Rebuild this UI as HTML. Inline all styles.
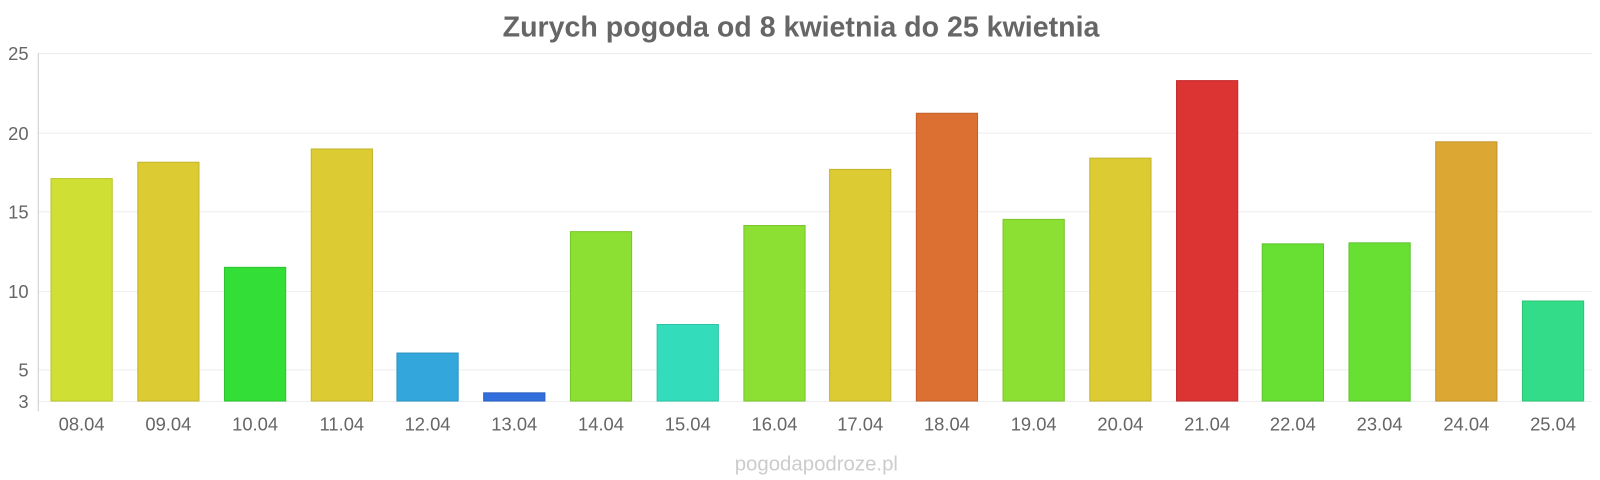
<!DOCTYPE html>
<html><head><meta charset="utf-8"><style>
body{margin:0;background:#fff;}
svg{display:block;font-family:"Liberation Sans",sans-serif;}
</style></head><body>
<svg width="1600" height="480" viewBox="0 0 1568 470.4" preserveAspectRatio="none">
<text x="785" y="36" text-anchor="middle" font-size="28" font-weight="bold" fill="#666">Zurych pogoda od 8 kwietnia do 25 kwietnia</text>
<g stroke="#eee" stroke-width="1">
<line x1="37" y1="52.5" x2="1560" y2="52.5"/>
<line x1="37" y1="130.5" x2="1560" y2="130.5"/>
<line x1="37" y1="207.5" x2="1560" y2="207.5"/>
<line x1="37" y1="285.5" x2="1560" y2="285.5"/>
<line x1="37" y1="362.5" x2="1560" y2="362.5"/>
<line x1="37" y1="393.5" x2="1560" y2="393.5"/>
</g>
<line x1="37.5" y1="52" x2="37.5" y2="403" stroke="#ccc"/>
<g font-size="18" fill="#666" text-anchor="end">
<text x="28" y="59">25</text><text x="28" y="137">20</text><text x="28" y="214">15</text>
<text x="28" y="292">10</text><text x="28" y="369">5</text><text x="28" y="400">3</text>
</g>
<g stroke-width="1">
<rect x="50" y="175" width="60" height="218" fill="#cfdf33" stroke="#b8c62a"/>
<rect x="135" y="159" width="60" height="234" fill="#dccb33" stroke="#c4b42b"/>
<rect x="220" y="262" width="60" height="131" fill="#33df37" stroke="#2bc42f"/>
<rect x="305" y="146" width="60" height="247" fill="#dccb33" stroke="#c4b42b"/>
<rect x="389" y="346" width="60" height="47" fill="#33a7dc" stroke="#2b93c4"/>
<rect x="474" y="385" width="60" height="8" fill="#336fdc" stroke="#2b5fc4"/>
<rect x="559" y="227" width="60" height="166" fill="#8cdf33" stroke="#7ac42b"/>
<rect x="644" y="318" width="60" height="75" fill="#33dcbb" stroke="#2bc4a5"/>
<rect x="729" y="221" width="60" height="172" fill="#8cdf33" stroke="#7ac42b"/>
<rect x="813" y="166" width="60" height="227" fill="#dccb33" stroke="#c4b42b"/>
<rect x="898" y="111" width="60" height="282" fill="#dc7033" stroke="#c4602b"/>
<rect x="983" y="215" width="60" height="178" fill="#8cdf33" stroke="#7ac42b"/>
<rect x="1068" y="155" width="60" height="238" fill="#dccb33" stroke="#c4b42b"/>
<rect x="1153" y="79" width="60" height="314" fill="#dc3333" stroke="#c42b2b"/>
<rect x="1237" y="239" width="60" height="154" fill="#68df33" stroke="#5ac42b"/>
<rect x="1322" y="238" width="60" height="155" fill="#68df33" stroke="#5ac42b"/>
<rect x="1407" y="139" width="60" height="254" fill="#dca833" stroke="#c4942b"/>
<rect x="1492" y="295" width="60" height="98" fill="#33dc88" stroke="#2bc476"/>
</g>
<g font-size="18" fill="#666" text-anchor="middle">
<text x="80" y="422">08.04</text><text x="165" y="422">09.04</text><text x="250" y="422">10.04</text>
<text x="335" y="422">11.04</text><text x="419" y="422">12.04</text><text x="504" y="422">13.04</text>
<text x="589" y="422">14.04</text><text x="674" y="422">15.04</text><text x="759" y="422">16.04</text>
<text x="843" y="422">17.04</text><text x="928" y="422">18.04</text><text x="1013" y="422">19.04</text>
<text x="1098" y="422">20.04</text><text x="1183" y="422">21.04</text><text x="1267" y="422">22.04</text>
<text x="1352" y="422">23.04</text><text x="1437" y="422">24.04</text><text x="1522" y="422">25.04</text>
</g>
<text x="800" y="461" text-anchor="middle" font-size="20" fill="#ccc">pogodapodroze.pl</text>
</svg>
</body></html>
